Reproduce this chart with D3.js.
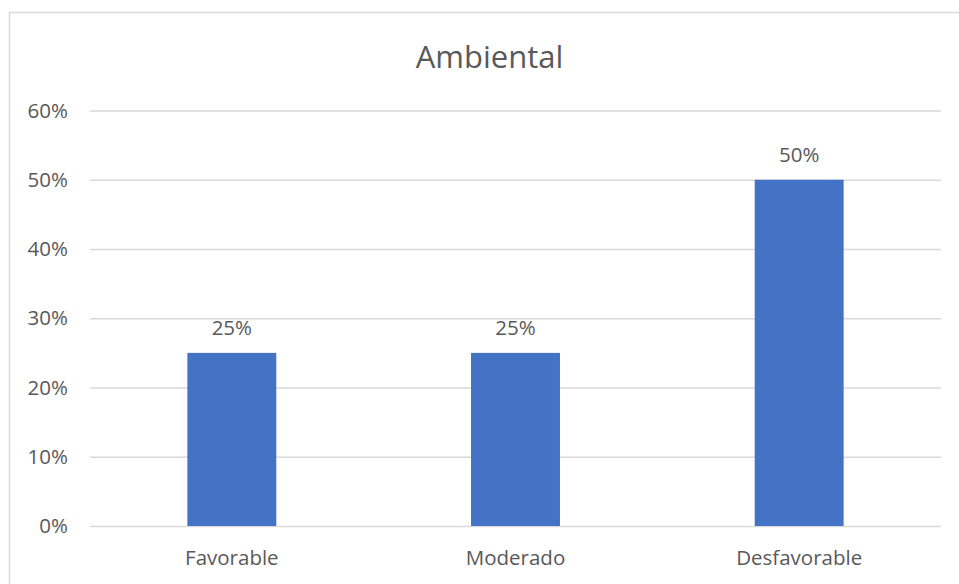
<!DOCTYPE html>
<html>
<head>
<meta charset="utf-8">
<script src="https://cdn.jsdelivr.net/npm/d3@7"></script>
<style>
  html, body { margin: 0; padding: 0; background: #ffffff; overflow: hidden; }
  svg { display: block; }
  text { font-family: "Open Sans", "Noto Sans", sans-serif; fill: #595959; }
</style>
</head>
<body>
<svg id="chart" width="959" height="584"></svg>
<script>
// Chart data
const title = "Ambiental";
const categories = ["Favorable", "Moderado", "Desfavorable"];
const values = [0.25, 0.25, 0.50];
const yTicks = [0, 0.1, 0.2, 0.3, 0.4, 0.5, 0.6];

const svg = d3.select("#chart");

// Chart frame
svg.append("rect")
  .attr("x", 9.5).attr("y", 12.5)
  .attr("width", 970).attr("height", 600)
  .attr("fill", "#ffffff")
  .attr("stroke", "#d9d9d9")
  .attr("stroke-width", 1.5);

// Plot area
const plot = { left: 90, right: 941, top: 110.5, bottom: 526 };

const x = d3.scaleBand()
  .domain(categories)
  .range([plot.left, plot.right])
  .paddingInner(0.6865)
  .paddingOuter(0.34325);

const y = d3.scaleLinear()
  .domain([0, 0.6])
  .range([plot.bottom, plot.top]);

const fmt = d3.format(".0%");

// Gridlines and value axis labels
const yAxis = d3.axisLeft(y)
  .tickValues(yTicks)
  .tickFormat(fmt)
  .tickSize(-(plot.right - plot.left))
  .tickPadding(22);

const gy = svg.append("g")
  .attr("transform", `translate(${plot.left},0)`)
  .call(yAxis);
gy.select(".domain").remove();
gy.selectAll(".tick line")
  .attr("stroke", "#d9d9d9")
  .attr("stroke-width", 1.5);
gy.selectAll(".tick text")
  .style("font-size", "20.5px")
  .attr("fill", "#595959");

// Bars
svg.append("g").selectAll("rect")
  .data(categories)
  .join("rect")
  .attr("x", d => x(d))
  .attr("y", (d, i) => y(values[i]))
  .attr("width", x.bandwidth())
  .attr("height", (d, i) => y(0) - y(values[i]))
  .attr("fill", "#4472c4");

// Value labels
svg.append("g").selectAll("text")
  .data(categories)
  .join("text")
  .attr("x", d => x(d) + x.bandwidth() / 2)
  .attr("y", (d, i) => y(values[i]) - 18)
  .attr("text-anchor", "middle")
  .style("font-size", "20.5px")
  .text((d, i) => fmt(values[i]));

// Category axis
const xAxis = d3.axisBottom(x).tickSize(0).tickPadding(0);
const gx = svg.append("g")
  .attr("transform", `translate(0,${plot.bottom})`)
  .call(xAxis);
gx.select(".domain").remove();
gx.selectAll(".tick text")
  .attr("dy", null)
  .attr("y", 39)
  .style("font-size", "20.5px")
  .attr("fill", "#595959");

// Title
svg.append("text")
  .attr("x", 489.5)
  .attr("y", 68)
  .attr("text-anchor", "middle")
  .style("font-size", "31px")
  .text(title);
</script>
</body>
</html>
